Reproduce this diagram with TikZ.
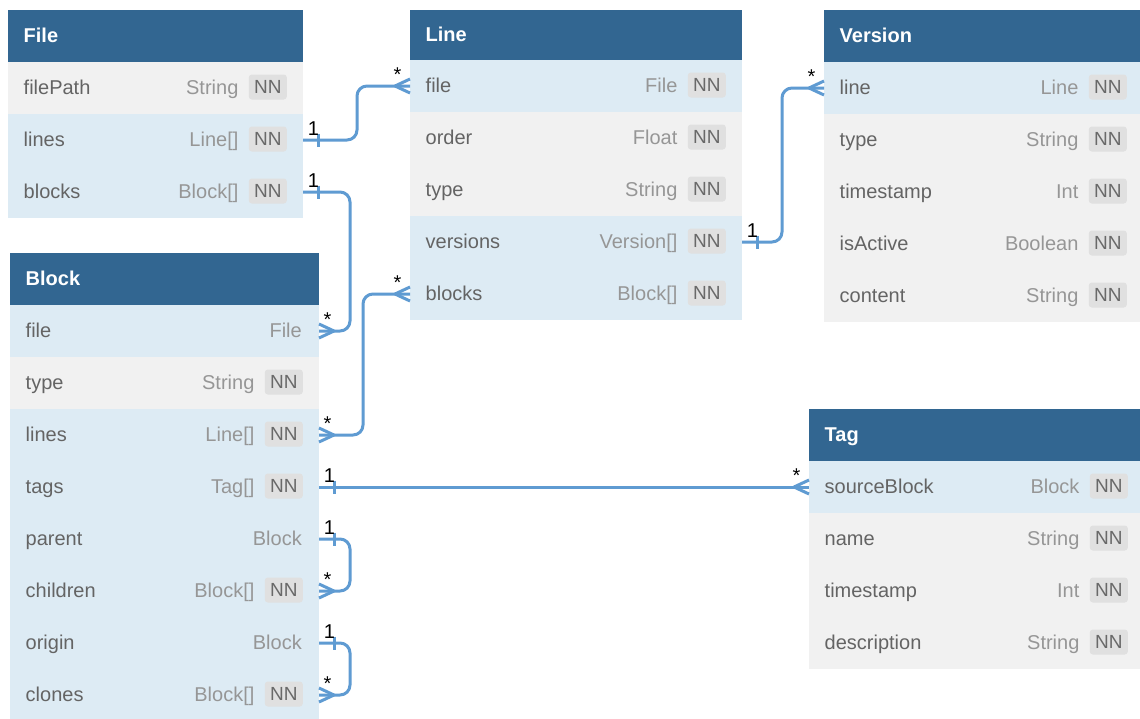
\documentclass[tikz,border=0pt]{standalone}
\usepackage{fontspec}
\setmainfont{Liberation Sans}
\definecolor{hdrblue}{RGB}{50,102,145}
\definecolor{rowblue}{RGB}{221,235,244}
\definecolor{rowgray}{RGB}{241,241,241}
\definecolor{namegray}{RGB}{100,100,100}
\definecolor{typegray}{RGB}{150,150,150}
\definecolor{badgefill}{RGB}{224,224,224}
\definecolor{badgetext}{RGB}{105,105,105}
\definecolor{connblue}{RGB}{95,155,210}
\tikzset{
  rowbox/.style={rectangle, draw=none, anchor=north west, minimum height=52pt, inner sep=0pt, outer sep=0pt},
  hdrbox/.style={rowbox, fill=hdrblue},
  hdrtxt/.style={anchor=base west, inner sep=0pt, text=white, font=\fontsize{20}{24}\selectfont\bfseries},
  fieldtxt/.style={anchor=base west, inner sep=0pt, text=namegray, font=\fontsize{20}{24}\selectfont},
  typetxt/.style={anchor=base east, inner sep=0pt, text=typegray, font=\fontsize{20}{24}\selectfont},
  badge/.style={anchor=east, fill=badgefill, text=badgetext, rounded corners=3pt, minimum width=38pt, minimum height=25pt, inner sep=0pt, font=\fontsize{19}{22}\selectfont},
  conn/.style={draw=connblue, line width=3pt},
  lbl/.style={anchor=base, inner sep=0pt, text=black, font=\fontsize{20}{24}\selectfont},
}
% header: name, x, y, width, height, title
\newcommand\ehdr[6]{%
  \node[hdrbox, minimum width=#4pt, minimum height=#5pt] (#1) at (#2,#3) {};
  \node[hdrtxt] at ([xshift=15.5pt,yshift=-6pt]#1.west) {#6};}
% row with NN: name, x, y, width, fill, field, type
\newcommand\erowNN[7]{%
  \node[rowbox, fill=#5, minimum width=#4pt] (#1) at (#2,#3) {};
  \node[fieldtxt] at ([xshift=15.5pt,yshift=-6pt]#1.west) {#6};
  \node[badge] (#1-nn) at ([xshift=-16pt,yshift=1pt]#1.east) {NN};
  \node[typetxt] at ([xshift=-10pt,yshift=-7pt]#1-nn.west) {#7};}
% row without NN
\newcommand\erowX[7]{%
  \node[rowbox, fill=#5, minimum width=#4pt] (#1) at (#2,#3) {};
  \node[fieldtxt] at ([xshift=15.5pt,yshift=-6pt]#1.west) {#6};
  \node[typetxt] at ([xshift=-17pt,yshift=-6pt]#1.east) {#7};}
% crow's foot on west side of a node
\newcommand\crowW[1]{%
  \draw[conn] ([xshift=-15pt]#1.west) -- ([yshift=7pt]#1.west)
              ([xshift=-15pt]#1.west) -- ([yshift=-7pt]#1.west);
  \node[lbl] at ([xshift=-12.5pt,yshift=4.5pt]#1.west) {*};}
% crow's foot on east side of a node
\newcommand\crowE[1]{%
  \draw[conn] ([xshift=15pt]#1.east) -- ([yshift=7pt]#1.east)
              ([xshift=15pt]#1.east) -- ([yshift=-7pt]#1.east);
  \node[lbl] at ([xshift=8.5pt,yshift=4.5pt]#1.east) {*};}
% one-tick on east side of a node
\newcommand\oneE[1]{%
  \draw[conn] ([xshift=15pt,yshift=6.5pt]#1.east) -- ([xshift=15pt,yshift=-6.5pt]#1.east);
  \node[lbl] at ([xshift=10.5pt,yshift=4.5pt]#1.east) {1};}

\begin{document}
\begin{tikzpicture}[x=1pt,y=-1pt]
\useasboundingbox (0,0) rectangle (1140,718);
\fill[white] (0,0) rectangle (1140,718);
\clip (0,0) rectangle (1140,718);

% ---------- File ----------
\ehdr{file}{8}{10}{295}{52}{File}
\erowNN{file-filePath}{8}{62}{295}{rowgray}{filePath}{String}
\erowNN{file-lines}{8}{114}{295}{rowblue}{lines}{Line[]}
\erowNN{file-blocks}{8}{166}{295}{rowblue}{blocks}{Block[]}

% ---------- Line ----------
\ehdr{line}{410}{10}{332}{50}{Line}
\erowNN{line-file}{410}{60}{332}{rowblue}{file}{File}
\erowNN{line-order}{410}{112}{332}{rowgray}{order}{Float}
\erowNN{line-type}{410}{164}{332}{rowgray}{type}{String}
\erowNN{line-versions}{410}{216}{332}{rowblue}{versions}{Version[]}
\erowNN{line-blocks}{410}{268}{332}{rowblue}{blocks}{Block[]}

% ---------- Version ----------
\ehdr{version}{824}{10}{319}{52}{Version}
\erowNN{version-line}{824}{62}{319}{rowblue}{line}{Line}
\erowNN{version-type}{824}{114}{319}{rowgray}{type}{String}
\erowNN{version-timestamp}{824}{166}{319}{rowgray}{timestamp}{Int}
\erowNN{version-isActive}{824}{218}{319}{rowgray}{isActive}{Boolean}
\erowNN{version-content}{824}{270}{319}{rowgray}{content}{String}

% ---------- Block ----------
\ehdr{block}{10}{253}{309}{52}{Block}
\erowX{block-file}{10}{305}{309}{rowblue}{file}{File}
\erowNN{block-type}{10}{357}{309}{rowgray}{type}{String}
\erowNN{block-lines}{10}{409}{309}{rowblue}{lines}{Line[]}
\erowNN{block-tags}{10}{461}{309}{rowblue}{tags}{Tag[]}
\erowX{block-parent}{10}{513}{309}{rowblue}{parent}{Block}
\erowNN{block-children}{10}{565}{309}{rowblue}{children}{Block[]}
\erowX{block-origin}{10}{617}{309}{rowblue}{origin}{Block}
\erowNN{block-clones}{10}{669}{309}{rowblue}{clones}{Block[]}

% ---------- Tag ----------
\ehdr{tag}{809}{409}{335}{52}{Tag}
\erowNN{tag-sourceBlock}{809}{461}{335}{rowblue}{sourceBlock}{Block}
\erowNN{tag-name}{809}{513}{335}{rowgray}{name}{String}
\erowNN{tag-timestamp}{809}{565}{335}{rowgray}{timestamp}{Int}
\erowNN{tag-description}{809}{617}{335}{rowgray}{description}{String}

% ---------- Connectors ----------
% File.lines -> Line.file
\draw[conn, rounded corners=10pt] (file-lines.east) -- ([xshift=54pt]file-lines.east) |- (line-file.west);
\oneE{file-lines}
\crowW{line-file}

% File.blocks -> Block.file
\draw[conn, rounded corners=10pt] (file-blocks.east) -- ([xshift=47pt]file-blocks.east) |- (block-file.east);
\oneE{file-blocks}
\crowE{block-file}

% Block.lines <-> Line.blocks
\draw[conn, rounded corners=10pt] (block-lines.east) -- ([xshift=44pt]block-lines.east) |- (line-blocks.west);
\crowE{block-lines}
\crowW{line-blocks}

% Line.versions -> Version.line
\draw[conn, rounded corners=10pt] (line-versions.east) -- ([xshift=40pt]line-versions.east) |- (version-line.west);
\oneE{line-versions}
\crowW{version-line}

% Block.tags -> Tag.sourceBlock
\draw[conn] (block-tags.east) -- (tag-sourceBlock.west);
\oneE{block-tags}
\crowW{tag-sourceBlock}

% Block.parent -> Block.children
\draw[conn, rounded corners=10pt] (block-parent.east) -- ([xshift=31pt]block-parent.east) |- (block-children.east);
\oneE{block-parent}
\crowE{block-children}

% Block.origin -> Block.clones
\draw[conn, rounded corners=10pt] (block-origin.east) -- ([xshift=31pt]block-origin.east) |- (block-clones.east);
\oneE{block-origin}
\crowE{block-clones}
\end{tikzpicture}
\end{document}
